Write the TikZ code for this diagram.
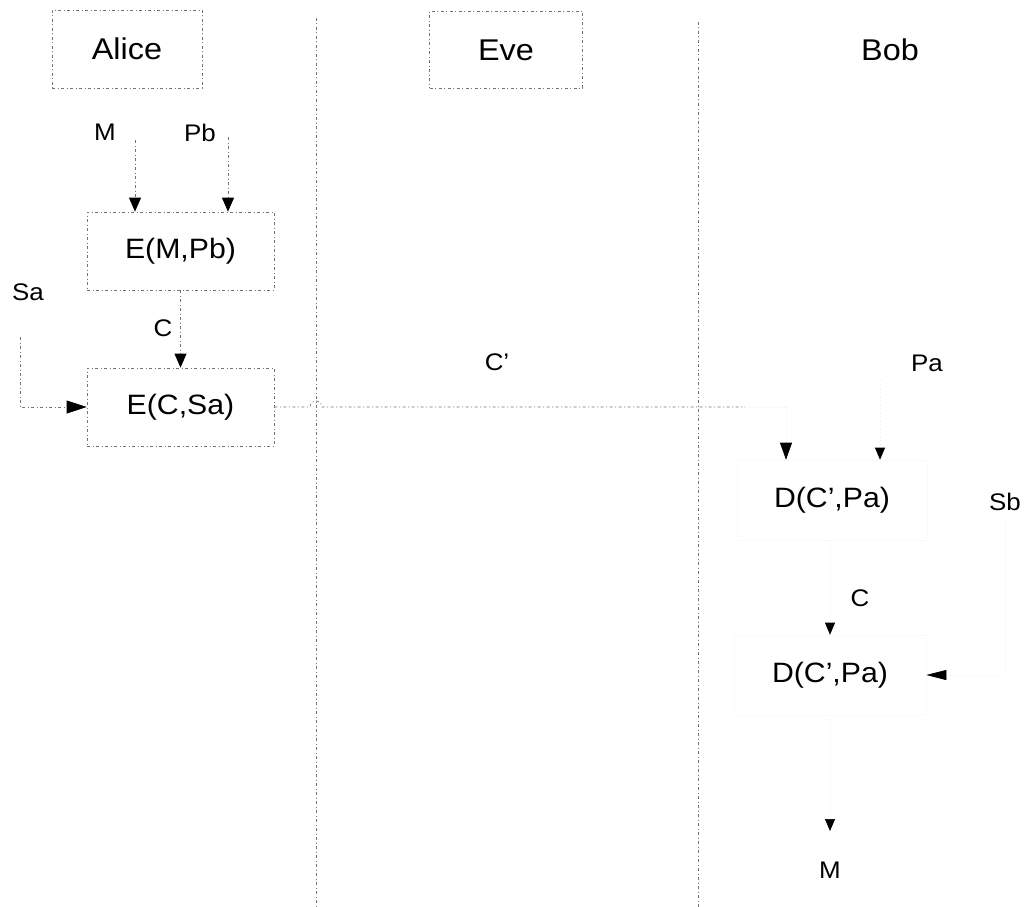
\documentclass[tikz,border=0pt]{standalone}
\usepackage{fontspec}
\setmainfont{Liberation Sans}[FakeStretch=1.08]
\usetikzlibrary{arrows.meta}
\begin{document}
\begin{tikzpicture}[x=1pt,y=-1pt,
  faded/.style={draw=black!55, line width=0.7pt, dash pattern=on 3pt off 2.5pt on 1pt off 2.5pt},
  ghost/.style={draw=black!8, line width=0.6pt, dash pattern=on 1pt off 3pt},
  opbox/.style={minimum width=187pt, minimum height=78pt, inner sep=0pt},
  hdr/.style={font=\fontsize{30}{34}\selectfont},
  op/.style={font=\fontsize{28}{32}\selectfont},
  lbl/.style={font=\fontsize{24}{28}\selectfont},
  tip/.style={-{Triangle[length=14pt,width=12pt,color=black]}},
  longtip/.style={-{Triangle[length=20pt,width=13pt,color=black]}},
  bigtip/.style={-{Triangle[length=17pt,width=12pt,color=black]}},
]
\useasboundingbox (0,0) rectangle (1026,907);

% column headers
\node[faded, hdr, minimum width=150pt, minimum height=78pt] (alice) at (127,49) {Alice};
\node[faded, hdr, minimum width=153pt, minimum height=77pt] (eve) at (506,50) {Eve};
\node[hdr] (bob) at (890,50) {Bob};

% column separators
\coordinate (sepA) at (316,18);
\coordinate (sepB) at (698,22);
\draw[faded] (sepA) -- (316,907);
\draw[faded] (sepB) -- (698,907);

% Alice: encryption with Bob's public key, then Alice's secret key
\node[lbl] (mA) at (105,132) {M};
\node[lbl] (pb) at (200,133) {Pb};
\node[faded, opbox, op] (emp) at (180.5,251) {E(M,Pb)};
\node[lbl] (cA) at (163,328) {C};
\node[faded, opbox, op] (ecs) at (180.5,407) {E(C,Sa)};
\node[lbl] (sa) at (28,292) {Sa};

\coordinate (mIn) at (135,140);
\coordinate (pbIn) at (228,137);
\coordinate (saIn) at (20,337);
\draw[faded, tip] (mIn) -- (mIn |- emp.north);
\draw[faded, tip] (pbIn) -- (pbIn |- emp.north);
\draw[faded, tip] (emp.south) -- (ecs.north);
\draw[faded, longtip] (saIn) |- (ecs.west);

% Eve: intercepted ciphertext
\node[lbl] (cp) at (497,362) {C’};

% Bob: decryption boxes (print has almost vanished)
\node[lbl] (pa) at (927,363) {Pa};
\node[ghost, opbox, op, minimum width=190pt, minimum height=80pt] (d1) at (832,500) {D(C’,Pa)};
\node[lbl] (sb) at (1005,502) {Sb};
\node[lbl] (cB) at (860,598) {C};
\node[ghost, opbox, op, minimum width=192pt, minimum height=80pt] (d2) at (830,675) {D(C’,Pa)};
\node[lbl] (mB) at (830,870) {M};

% transmission line, hopping over the first separator
\coordinate (hop) at (310,407);
\coordinate (fadeOut) at (745,407);
\coordinate (turn) at (786,407);
\draw[faded] (ecs.east) -- (hop) arc[start angle=180, end angle=0, radius=6pt] -- (fadeOut);
\draw[ghost, bigtip] (fadeOut) -- (turn) -- (turn |- d1.north);

\coordinate (paIn) at (880,380);
\coordinate (sbIn) at (1005,520);
\coordinate (mEnd) at (830,831);
\draw[ghost, -{Triangle[length=12pt,width=10pt,color=black]}] (paIn) -- (paIn |- d1.north);
\draw[ghost, -{Triangle[length=12pt,width=10pt,color=black]}] (d1.south -| d2.north) -- (d2.north);
\draw[ghost, {Triangle[length=20pt,width=10pt,color=black]}-] (d2.east) -| (sbIn);
\draw[ghost, -{Triangle[length=12pt,width=10pt,color=black]}] (d2.south) -- (mEnd);
\end{tikzpicture}
\end{document}
